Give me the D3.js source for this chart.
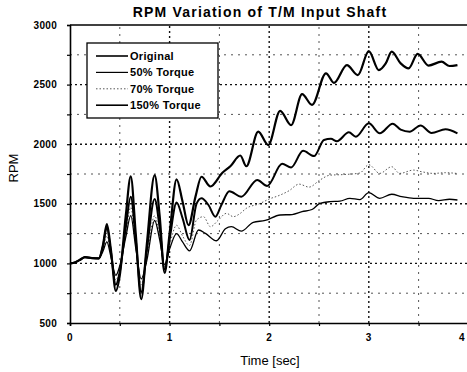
<!DOCTYPE html>
<html>
<head>
<meta charset="utf-8">
<script src="https://cdn.jsdelivr.net/npm/d3@7"></script>
<style>
  body { margin: 0; background: #fff; }
  svg { display: block; font-family: "Liberation Sans", Arial, sans-serif; }
  .tick-label { font-size: 10px; font-weight: bold; letter-spacing: 0.3px; }
</style>
</head>
<body>
<svg id="chart" width="467" height="372"></svg>
<script>
// values: [time (sec), rpm]
var original = [
  [0, 1000], [0.05, 1008], [0.1, 1030], [0.15, 1052], [0.22, 1045], [0.29, 1042],
  [0.33, 1140], [0.37, 1300], [0.41, 1100], [0.46, 820], [0.5, 930], [0.56, 1300],
  [0.61, 1560], [0.66, 1200], [0.715, 760], [0.77, 1100], [0.85, 1540], [0.9, 1300],
  [0.95, 950], [1.0, 1200], [1.07, 1510], [1.13, 1380], [1.2, 1196], [1.27, 1500],
  [1.32, 1546], [1.39, 1490], [1.46, 1392], [1.52, 1490], [1.6, 1605], [1.72, 1560],
  [1.88, 1700], [1.98, 1650], [2.13, 1835], [2.22, 1805], [2.34, 1945], [2.45, 1900],
  [2.55, 2035], [2.62, 2045], [2.68, 2025], [2.8, 2100], [2.87, 2063], [3.0, 2175],
  [3.11, 2091], [3.24, 2172], [3.32, 2122], [3.41, 2105], [3.52, 2157], [3.63, 2094],
  [3.77, 2125], [3.89, 2091]
];

var torque50 = [
  [0, 1000], [0.05, 1008], [0.1, 1030], [0.15, 1052], [0.22, 1045], [0.29, 1042],
  [0.33, 1100], [0.37, 1180], [0.41, 1060], [0.46, 900], [0.5, 980], [0.56, 1220],
  [0.61, 1400], [0.66, 1130], [0.715, 870], [0.77, 1020], [0.85, 1360], [0.9, 1200],
  [0.95, 990], [1.0, 1120], [1.07, 1250], [1.13, 1180], [1.2, 1105], [1.29, 1280],
  [1.36, 1252], [1.47, 1190], [1.56, 1290], [1.62, 1308], [1.72, 1270], [1.84, 1345],
  [1.96, 1360], [2.11, 1406], [2.23, 1410], [2.33, 1434], [2.43, 1452], [2.51, 1504],
  [2.61, 1518], [2.71, 1522], [2.81, 1546], [2.91, 1535], [3.0, 1594], [3.11, 1546],
  [3.23, 1580], [3.33, 1560], [3.45, 1546], [3.6, 1546], [3.7, 1526], [3.81, 1538],
  [3.89, 1532]
];

var torque70 = [
  [0, 1000], [0.05, 1008], [0.1, 1030], [0.15, 1052], [0.22, 1045], [0.29, 1042],
  [0.33, 1120], [0.37, 1230], [0.41, 1080], [0.46, 860], [0.5, 950], [0.56, 1250],
  [0.61, 1470], [0.66, 1150], [0.715, 820], [0.77, 1050], [0.85, 1400], [0.9, 1230],
  [0.95, 970], [1.0, 1150], [1.07, 1320], [1.13, 1230], [1.2, 1150], [1.27, 1364],
  [1.34, 1392], [1.41, 1308], [1.49, 1364], [1.57, 1420], [1.64, 1392], [1.71, 1420],
  [1.77, 1462], [1.9, 1500], [2.0, 1540], [2.1, 1570], [2.2, 1610], [2.3, 1665],
  [2.4, 1640], [2.51, 1700], [2.61, 1740], [2.74, 1745], [2.91, 1758], [3.0, 1828],
  [3.11, 1755], [3.23, 1811], [3.31, 1755], [3.45, 1783], [3.53, 1769], [3.65, 1755],
  [3.77, 1761], [3.88, 1755]
];

var torque150 = [
  [0, 1000], [0.05, 1008], [0.1, 1030], [0.15, 1052], [0.22, 1045], [0.29, 1042],
  [0.33, 1150], [0.37, 1330], [0.41, 1120], [0.46, 770], [0.5, 900], [0.56, 1400],
  [0.61, 1730], [0.66, 1250], [0.715, 700], [0.77, 1150], [0.85, 1740], [0.9, 1400],
  [0.95, 920], [1.0, 1250], [1.07, 1705], [1.13, 1520], [1.19, 1320], [1.26, 1560],
  [1.32, 1727], [1.41, 1645], [1.53, 1760], [1.61, 1815], [1.71, 1905], [1.77, 1815],
  [1.89, 2105], [1.99, 1993], [2.11, 2280], [2.22, 2160], [2.33, 2420], [2.43, 2330],
  [2.57, 2595], [2.65, 2515], [2.78, 2664], [2.89, 2580], [3.0, 2780], [3.1, 2622],
  [3.17, 2678], [3.23, 2776], [3.32, 2678], [3.4, 2636], [3.49, 2757], [3.6, 2660],
  [3.73, 2692], [3.81, 2656], [3.89, 2664]
];

var seriesNames = ['Original', '50% Torque', '70% Torque', '150% Torque'];
var yTicks = [500, 1000, 1500, 2000, 2500, 3000];
var xTicks = [0, 1, 2, 3, 4];

var svg = d3.select('#chart');

var x = d3.scaleLinear().domain([0, 4]).range([70, 468.4]);
var y = d3.scaleLinear().domain([500, 3000]).range([323, 25]);

/**
 * Grid
 */
var grid = svg.append('g').attr('class', 'grid');

// minor lines every 250 rpm / 0.5 sec
grid.selectAll('line.minor-h')
  .data(d3.range(750, 3000, 500))
  .enter().append('line')
  .attr('x1', x(0)).attr('x2', x(4))
  .attr('y1', y).attr('y2', y)
  .attr('stroke', '#555').attr('stroke-width', 1)
  .attr('stroke-dasharray', '2,5');

grid.selectAll('line.minor-v')
  .data(d3.range(0.5, 4, 1))
  .enter().append('line')
  .attr('x1', x).attr('x2', x)
  .attr('y1', y(500)).attr('y2', y(3000))
  .attr('stroke', '#555').attr('stroke-width', 1)
  .attr('stroke-dasharray', '2,5');

// major lines
grid.selectAll('line.major-h')
  .data([1000, 1500, 2000, 2500])
  .enter().append('line')
  .attr('x1', x(0)).attr('x2', x(4))
  .attr('y1', y).attr('y2', y)
  .attr('stroke', '#111').attr('stroke-width', 1.4)
  .attr('stroke-dasharray', '2,3');

grid.selectAll('line.major-v')
  .data([1, 2, 3])
  .enter().append('line')
  .attr('x1', x).attr('x2', x)
  .attr('y1', y(500)).attr('y2', y(3000))
  .attr('stroke', '#111').attr('stroke-width', 1.4)
  .attr('stroke-dasharray', '2,3');

/**
 * Axes
 */
var yAxis = svg.append('g')
  .attr('transform', 'translate(' + x(0) + ',0)')
  .call(d3.axisLeft(y).tickValues(d3.range(500, 3001, 250)).tickSize(3).tickFormat(''));

var xAxis = svg.append('g')
  .attr('transform', 'translate(0,' + y(500) + ')')
  .call(d3.axisBottom(x).tickValues(d3.range(0, 4.01, 0.5)).tickSize(3).tickFormat(''));

[xAxis, yAxis].forEach(function (ax) {
  ax.select('.domain').attr('stroke', '#000').attr('stroke-width', 1.6);
  ax.selectAll('.tick line').attr('stroke', '#000').attr('stroke-width', 1.2);
});

// top frame line
svg.append('line')
  .attr('x1', x(0)).attr('x2', x(4))
  .attr('y1', y(3000)).attr('y2', y(3000))
  .attr('stroke', '#000').attr('stroke-width', 1.4);

svg.selectAll('text.ylab')
  .data(yTicks)
  .enter().append('text')
  .attr('class', 'tick-label')
  .attr('x', 57)
  .attr('y', function (d) { return y(d) + 3.5; })
  .attr('text-anchor', 'end')
  .text(function (d) { return d; });

// the last label sits on the page edge, nudge it in so it stays readable
svg.selectAll('text.xlab')
  .data(xTicks)
  .enter().append('text')
  .attr('class', 'tick-label')
  .attr('x', function (d) { return Math.min(x(d), 462); })
  .attr('y', 341)
  .attr('text-anchor', 'middle')
  .text(function (d) { return d; });

/**
 * Series
 */
var line = d3.line()
  .x(function (d) { return x(d[0]); })
  .y(function (d) { return y(d[1]); })
  .curve(d3.curveMonotoneX);

var styles = [
  { data: torque70, width: 0.9, color: '#444', dash: '1.5,2' },
  { data: torque50, width: 1.3, color: '#000', dash: null },
  { data: original, width: 2, color: '#000', dash: null },
  { data: torque150, width: 2.2, color: '#000', dash: null }
];

svg.append('g').selectAll('path')
  .data(styles)
  .enter().append('path')
  .attr('d', function (s) { return line(s.data); })
  .attr('fill', 'none')
  .attr('stroke', function (s) { return s.color; })
  .attr('stroke-width', function (s) { return s.width; })
  .attr('stroke-dasharray', function (s) { return s.dash; })
  .attr('stroke-linejoin', 'round');

/**
 * Legend
 */
var legend = svg.append('g');

legend.append('rect')
  .attr('x', 87).attr('y', 43)
  .attr('width', 131).attr('height', 75)
  .attr('fill', '#fff').attr('stroke', '#000').attr('stroke-width', 1.3);

var legendStyles = [
  { width: 1.6, color: '#000', dash: null },
  { width: 1.2, color: '#000', dash: null },
  { width: 0.9, color: '#444', dash: '1.5,2' },
  { width: 1.6, color: '#000', dash: null }
];

var entry = legend.selectAll('g.entry')
  .data(seriesNames)
  .enter().append('g')
  .attr('class', 'entry')
  .attr('transform', function (d, i) { return 'translate(0,' + (56 + i * 16.4) + ')'; });

entry.append('line')
  .attr('x1', 96).attr('x2', 128)
  .attr('y1', 0).attr('y2', 0)
  .attr('stroke', function (d, i) { return legendStyles[i].color; })
  .attr('stroke-width', function (d, i) { return legendStyles[i].width; })
  .attr('stroke-dasharray', function (d, i) { return legendStyles[i].dash; });

entry.append('text')
  .attr('x', 130).attr('y', 4)
  .style('font-size', '11px').style('font-weight', 'bold')
  .style('letter-spacing', '0.3px')
  .text(function (d) { return d; });

/**
 * Titles
 */
svg.append('text')
  .attr('x', 260).attr('y', 17)
  .attr('text-anchor', 'middle')
  .style('font-size', '14px').style('font-weight', 'bold')
  .style('letter-spacing', '1.2px')
  .text('RPM Variation of T/M Input Shaft');

svg.append('text')
  .attr('transform', 'translate(18,168) rotate(-90)')
  .attr('text-anchor', 'middle')
  .style('font-size', '13px')
  .text('RPM');

svg.append('text')
  .attr('x', 270).attr('y', 365)
  .attr('text-anchor', 'middle')
  .style('font-size', '13px')
  .text('Time [sec]');
</script>
</body>
</html>
